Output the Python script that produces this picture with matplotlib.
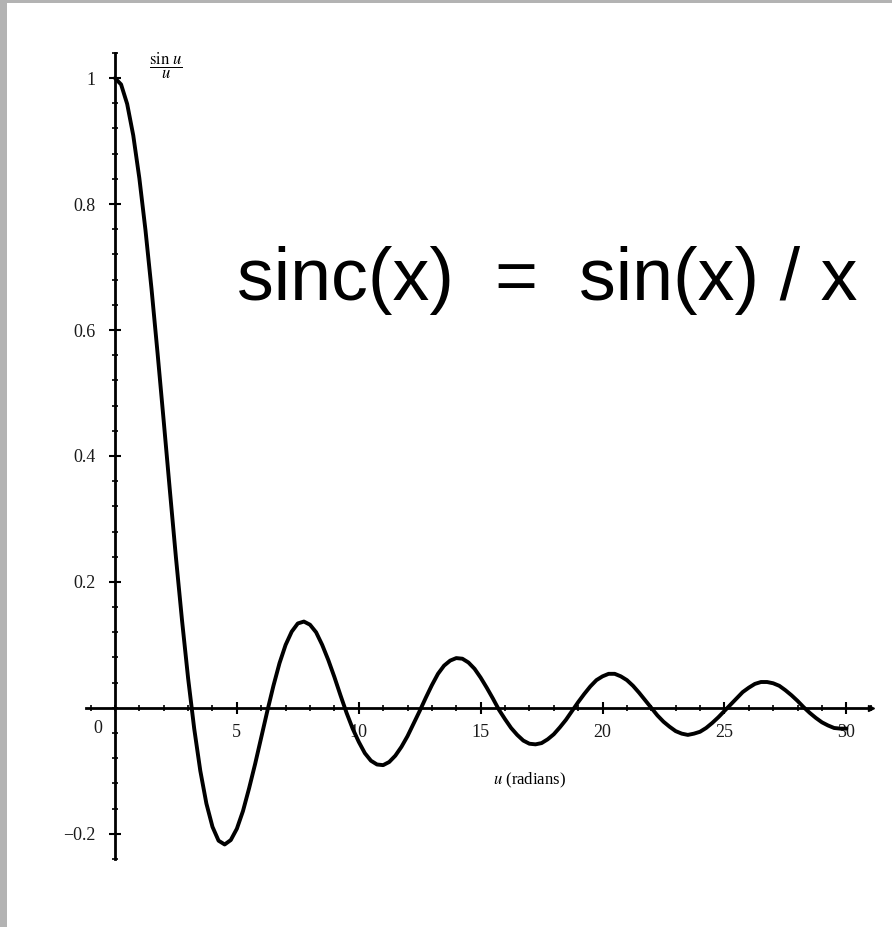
import matplotlib.pyplot as plt
from matplotlib.patches import Rectangle
from matplotlib.ticker import MultipleLocator, FixedLocator

plt.rcParams['mathtext.fontset'] = 'stix'

# values, every 0.25 rad from 0 to 30
u = [i * 0.25 for i in range(121)]
sinc = [1.000, 0.990, 0.959, 0.909, 0.841, 0.759, 0.665, 0.562, 0.455, 0.346,
        0.239, 0.139, 0.047, -0.033, -0.100, -0.152, -0.189, -0.211, -0.217, -0.210,
        -0.192, -0.164, -0.128, -0.089, -0.047, -0.005, 0.035, 0.071, 0.100, 0.121,
        0.134, 0.137, 0.132, 0.120, 0.100, 0.076, 0.049, 0.020, -0.008, -0.033,
        -0.054, -0.072, -0.084, -0.090, -0.091, -0.086, -0.076, -0.062, -0.045, -0.025,
        -0.005, 0.016, 0.036, 0.054, 0.067, 0.075, 0.079, 0.078, 0.072, 0.062,
        0.048, 0.032, 0.015, -0.003, -0.018, -0.032, -0.043, -0.052, -0.057, -0.058,
        -0.056, -0.050, -0.042, -0.031, -0.019, -0.005, 0.009, 0.022, 0.034, 0.044,
        0.050, 0.054, 0.054, 0.050, 0.044, 0.035, 0.024, 0.012, 0.000, -0.012,
        -0.022, -0.030, -0.037, -0.041, -0.043, -0.041, -0.038, -0.032, -0.024, -0.015,
        -0.005, 0.005, 0.015, 0.025, 0.032, 0.038, 0.041, 0.041, 0.039, 0.035,
        0.028, 0.020, 0.011, 0.001, -0.008, -0.016, -0.023, -0.028, -0.032, -0.033, -0.033]

x_major = [5, 10, 15, 20, 25, 30]
y_major = [-0.2, 0.2, 0.4, 0.6, 0.8, 1.0]
y_labels = ['\u22120.2', '0.2', '0.4', '0.6', '0.8', '1']

fig = plt.figure(figsize=(8.92, 9.27), dpi=100, facecolor='#b3b3b3')
# white page inside the grey scan border
fig.patches.append(Rectangle((7 / 892, 0), 1, 1 - 3 / 927, transform=fig.transFigure,
                             facecolor='white', edgecolor='none', zorder=-10))

ax = fig.add_axes([0.0961, 0.0734, 0.880, 0.8695])
ax.set_zorder(5)
ax.patch.set_alpha(0)
ax.plot(u, sinc, color='black', lw=2.8, solid_capstyle='round', solid_joinstyle='round')

ax.set_xlim(-1.2, 31)
ax.set_ylim(-0.24, 1.04)
ax.spines['left'].set_position(('data', 0))
ax.spines['bottom'].set_position(('data', 0))
ax.spines['top'].set_visible(False)
ax.spines['right'].set_visible(False)
for s in ('left', 'bottom'):
    ax.spines[s].set_linewidth(2.0)
ax.plot(31, 0, marker='>', color='black', ms=5, clip_on=False)

ax.xaxis.set_major_locator(FixedLocator(x_major))
ax.xaxis.set_minor_locator(MultipleLocator(1))
ax.yaxis.set_major_locator(FixedLocator(y_major))
ax.yaxis.set_minor_locator(MultipleLocator(0.04))
ax.tick_params(which='major', direction='inout', length=8, width=1.5)
ax.tick_params(which='minor', direction='inout', length=5, width=1.2)
ax.set_xticklabels([str(v) for v in x_major], family='Liberation Serif', fontsize=13, color='#1a1a1a')
ax.set_yticklabels(y_labels, family='Liberation Serif', fontsize=13, color='#1a1a1a')
ax.tick_params(axis='x', pad=8)
ax.tick_params(axis='y', pad=10)

ax.text(-0.7, -0.02, '0', ha='center', va='top', family='Liberation Serif', fontsize=13, color='#1a1a1a')
ax.text(2.1, 1.02, r'$\dfrac{\mathrm{sin}\ u}{u}$', ha='center', va='center', fontsize=12)
ax.text(17.0, -0.115, r'$u$ (radians)', ha='center', va='center', family='Liberation Serif', fontsize=12)

fig.text(0.613, 1 - 300 / 927, 'sinc(x)  =  sin(x) / x', ha='center', va='baseline',
         family='Liberation Sans', fontsize=53, color='black', zorder=6)

fig.savefig('out.png', dpi=100, facecolor=fig.get_facecolor())
